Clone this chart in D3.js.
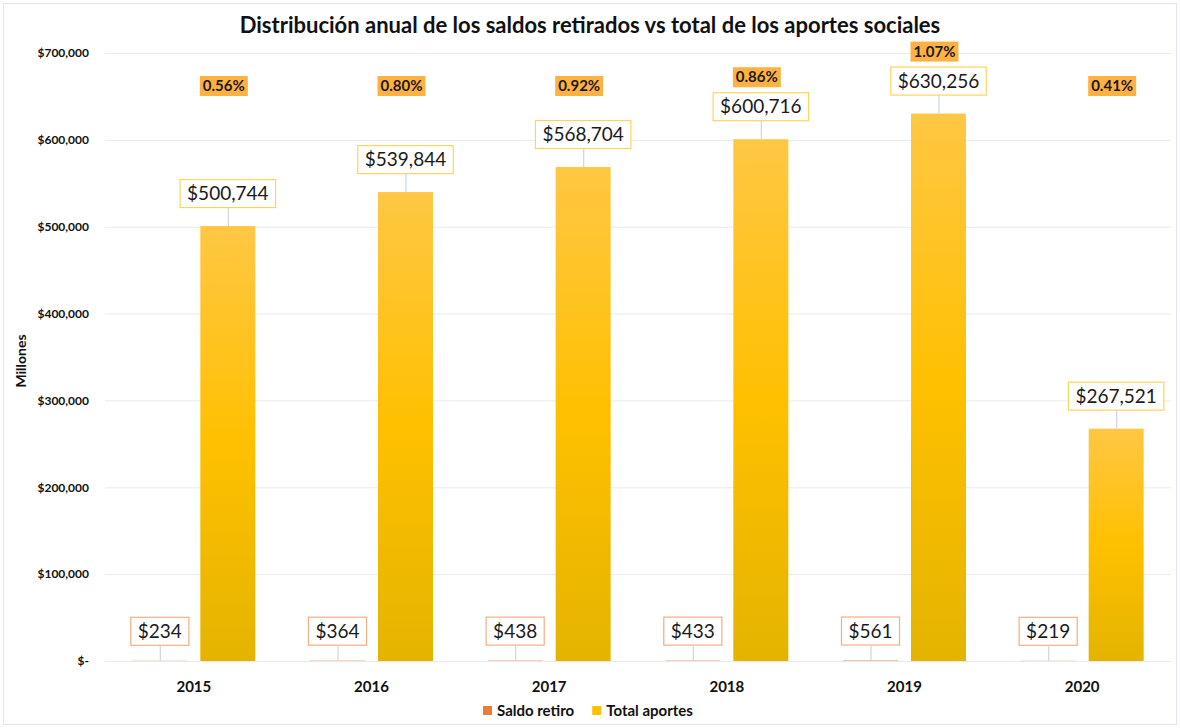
<!DOCTYPE html>
<html lang="es">
<head>
<meta charset="utf-8">
<title>Distribución anual de los saldos retirados vs total de los aportes sociales</title>
<script src="https://cdn.jsdelivr.net/npm/d3@7/dist/d3.min.js"></script>
<style>
  html, body { margin: 0; padding: 0; background: #ffffff; }
  svg { display: block; font-family: Lato, "Open Sans", "Liberation Sans", sans-serif; }
</style>
</head>
<body>
<svg id="chart" width="1180" height="728"></svg>
<script>
// Years on the x axis
const years = ["2015", "2016", "2017", "2018", "2019", "2020"];
// Series names (legend order)
const seriesNames = ["Saldo retiro", "Total aportes"];
// Withdrawn balances, millions
const saldoRetiro = [234, 364, 438, 433, 561, 219];
// Total social contributions, millions
const totalAportes = [500744, 539844, 568704, 600716, 630256, 267521];
// Share labels shown above each year
const porcentajes = ["0.56%", "0.80%", "0.92%", "0.86%", "1.07%", "0.41%"];
// Y axis ticks
const yTicks = [0, 100000, 200000, 300000, 400000, 500000, 600000, 700000];

const W = 1180, H = 728;
const plot = { left: 105, right: 1171, top: 53, bottom: 661 };
const colors = { "Saldo retiro": "#ed7d31", "Total aportes": "#ffc000" };
const FONT = "Lato, 'Open Sans', sans-serif";

const svg = d3.select("#chart");

// Outer chart border
svg.append("rect")
  .attr("x", 3.5).attr("y", 3.5).attr("width", W - 7).attr("height", H - 7)
  .attr("fill", "#fff").attr("stroke", "#e4e6ee").attr("stroke-width", 1);

// Vertical gradient used by the contribution bars
const defs = svg.append("defs");
const grad = defs.append("linearGradient")
  .attr("id", "aportesGrad").attr("x1", 0).attr("y1", 0).attr("x2", 0).attr("y2", 1);
grad.append("stop").attr("offset", "0%").attr("stop-color", "#ffc744");
grad.append("stop").attr("offset", "50%").attr("stop-color", "#ffc000");
grad.append("stop").attr("offset", "100%").attr("stop-color", "#e4b400");

const x0 = d3.scaleBand().domain(years).range([plot.left, plot.right]).padding(0);
const x1 = d3.scalePoint().domain(seriesNames).range([-34, 34]);
const barW = 55;
const y = d3.scaleLinear().domain([0, 700000]).range([plot.bottom, plot.top]);

// Title
svg.append("text")
  .attr("x", 590).attr("y", 33)
  .attr("text-anchor", "middle")
  .attr("font-size", 22).attr("font-weight", 700).attr("fill", "#111")
  .text("Distribución anual de los saldos retirados vs total de los aportes sociales");

// Gridlines
svg.append("g")
  .selectAll("line").data(yTicks).join("line")
  .attr("x1", plot.left).attr("x2", plot.right)
  .attr("y1", d => y(d) + 0.5).attr("y2", d => y(d) + 0.5)
  .attr("stroke", "#e9eaf1").attr("stroke-width", 1);

// Y axis (labels only)
const fmtMoney = d => d === 0 ? "$-" : "$" + d3.format(",")(d);
const yAxis = d3.axisLeft(y).tickValues(yTicks).tickFormat(fmtMoney).tickSize(0).tickPadding(0);
const gy = svg.append("g").attr("transform", `translate(89,0)`).call(yAxis);
gy.select(".domain").remove();
gy.selectAll("text")
  .attr("font-size", 12).attr("font-weight", 700).attr("fill", "#111")
  .attr("font-family", FONT);

// Y axis title
svg.append("text")
  .attr("transform", `translate(26,${(plot.top + plot.bottom) / 2 + 4}) rotate(-90)`)
  .attr("text-anchor", "middle")
  .attr("font-size", 14).attr("font-weight", 700).attr("fill", "#111")
  .text("Millones");

// X axis (labels only)
const xAxis = d3.axisBottom(x0).tickSize(0).tickPadding(0);
const gx = svg.append("g").attr("transform", `translate(0,${plot.bottom + 31})`).call(xAxis);
gx.select(".domain").remove();
gx.selectAll("text")
  .attr("dy", 0)
  .attr("font-size", 15).attr("font-weight", 700).attr("fill", "#111")
  .attr("font-family", FONT);

// Bars
const rows = years.map((yr, i) => ({
  year: yr,
  values: [
    { key: "Saldo retiro", value: saldoRetiro[i] },
    { key: "Total aportes", value: totalAportes[i] }
  ],
  pct: porcentajes[i]
}));

const groups = svg.append("g").selectAll("g").data(rows).join("g")
  .attr("transform", d => `translate(${x0(d.year) + x0.bandwidth() / 2},0)`);

groups.selectAll("rect.bar").data(d => d.values).join("rect")
  .attr("class", "bar")
  .attr("x", d => x1(d.key) - barW / 2)
  .attr("width", barW)
  .attr("y", d => y(d.value))
  .attr("height", d => y(0) - y(d.value))
  .attr("fill", d => d.key === "Total aportes" ? "url(#aportesGrad)" : colors[d.key]);

// Data callouts: boxed value with a leader line down to the bar
const labelLayer = svg.append("g");
const boxH = 28;
rows.forEach(row => {
  const cx0 = x0(row.year) + x0.bandwidth() / 2;
  let aportesBoxTop = null;
  row.values.forEach(v => {
    const cx = cx0 + x1(v.key);
    const top = y(v.value);
    const isAportes = v.key === "Total aportes";
    const gap = isAportes ? 19 : 16;
    const boxBottom = top - gap;
    const boxTop = boxBottom - boxH;
    if (isAportes) aportesBoxTop = boxTop;

    labelLayer.append("line")
      .attr("x1", cx + 0.5).attr("x2", cx + 0.5)
      .attr("y1", boxBottom).attr("y2", top)
      .attr("stroke", "#cfd5e2").attr("stroke-width", 1.2);

    const t = labelLayer.append("text")
      .attr("x", cx).attr("y", boxTop + boxH / 2 + 7)
      .attr("text-anchor", "middle")
      .attr("font-size", 19).attr("fill", "#1a1a1a")
      .text("$" + d3.format(",")(v.value));
    const tw = t.node().getComputedTextLength();
    labelLayer.insert("rect", "text")
      .attr("x", cx - tw / 2 - 7).attr("y", boxTop + 0.5)
      .attr("width", tw + 14).attr("height", boxH)
      .attr("fill", "#fff")
      .attr("stroke", isAportes ? "#ffd45c" : "#f5ae84")
      .attr("stroke-width", 1.2);
  });

  // Percentage tag above the year, lifted when the value callout is tall
  const px = cx0 + x1("Total aportes") - 4;
  const pyCenter = Math.min(86, aportesBoxTop - 15);
  const pt = labelLayer.append("text")
    .attr("x", px).attr("y", pyCenter + 5)
    .attr("text-anchor", "middle")
    .attr("font-size", 15).attr("font-weight", 700).attr("fill", "#1a1a1a")
    .text(row.pct);
  const pw = pt.node().getComputedTextLength();
  labelLayer.insert("rect", "text")
    .attr("x", px - pw / 2 - 3).attr("y", pyCenter - 10)
    .attr("width", pw + 6).attr("height", 20)
    .attr("fill", "#ffb142");
});

// Legend
const legend = svg.append("g").attr("transform", "translate(483,710)");
let lx = 0;
seriesNames.forEach(name => {
  legend.append("rect")
    .attr("x", lx).attr("y", -4).attr("width", 9).attr("height", 9)
    .attr("fill", colors[name]);
  const t = legend.append("text")
    .attr("x", lx + 14).attr("y", 5.5)
    .attr("font-size", 15).attr("font-weight", 700).attr("fill", "#111")
    .text(name);
  lx += 14 + t.node().getComputedTextLength() + 18;
});
</script>
</body>
</html>
